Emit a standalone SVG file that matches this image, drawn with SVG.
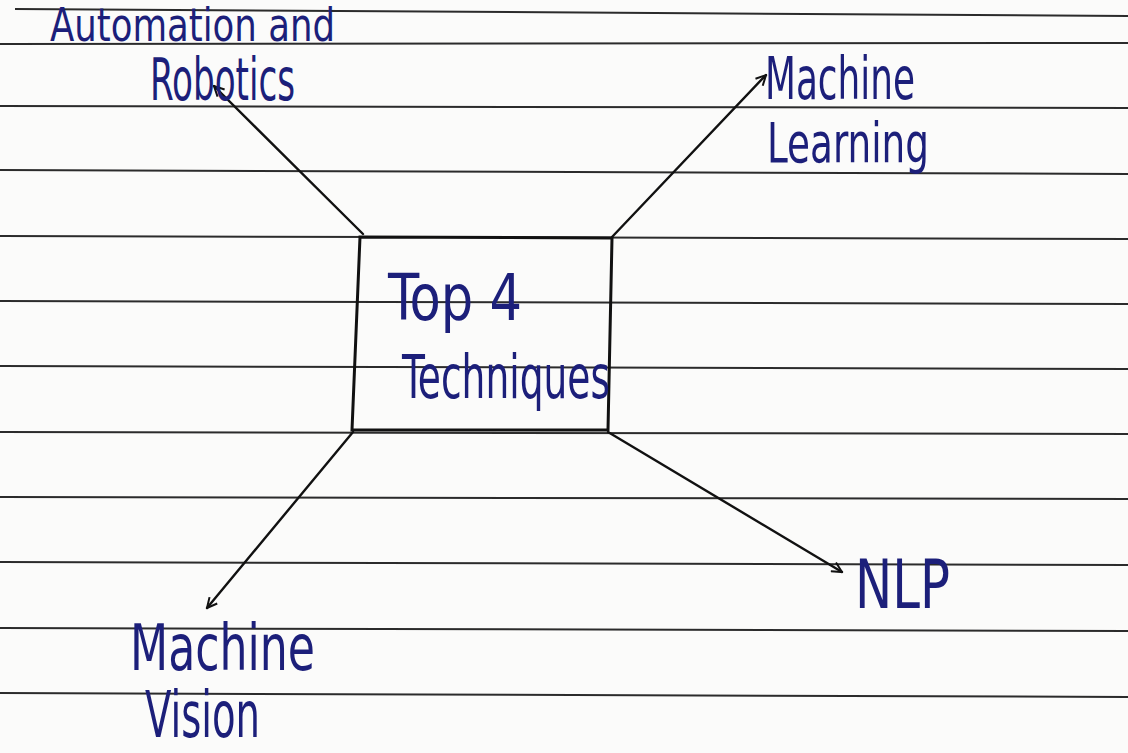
<svg xmlns="http://www.w3.org/2000/svg" width="1128" height="753" viewBox="0 0 1128 753">
<defs>
<style>
.rule{stroke:#2b2b2b;stroke-width:2;fill:none}
.conn{stroke:#111;stroke-width:2.4;fill:none;stroke-linecap:round}
.box{stroke:#111;stroke-width:3;fill:none}
.hand{font-family:"Liberation Sans Narrow","DejaVu Sans Condensed","Liberation Sans",sans-serif;fill:#1c1f7a}
</style>
<marker id="arr" viewBox="0 0 12 12" refX="11" refY="6" markerWidth="12" markerHeight="12" markerUnits="userSpaceOnUse" orient="auto">
<path d="M1,1 L11,6 L1,11" fill="none" stroke="#111" stroke-width="2"/>
</marker>
</defs>
<rect width="1128" height="753" fill="#fbfbfa"/>
<g id="ruled-lines">
<line class="rule" x1="15" y1="9" x2="1128" y2="16"/>
<line class="rule" x1="0" y1="44" x2="1128" y2="43"/>
<line class="rule" x1="0" y1="106" x2="1128" y2="108"/>
<line class="rule" x1="0" y1="170" x2="1128" y2="174"/>
<line class="rule" x1="0" y1="236" x2="1128" y2="239"/>
<line class="rule" x1="0" y1="301" x2="1128" y2="304"/>
<line class="rule" x1="0" y1="366" x2="1128" y2="369"/>
<line class="rule" x1="0" y1="432" x2="1128" y2="434"/>
<line class="rule" x1="0" y1="497" x2="1128" y2="499"/>
<line class="rule" x1="0" y1="562" x2="1128" y2="565"/>
<line class="rule" x1="0" y1="628" x2="1128" y2="631"/>
<line class="rule" x1="0" y1="693" x2="1128" y2="697"/>
</g>
<g id="connectors">
<line class="conn" x1="363" y1="234" x2="214" y2="86" marker-end="url(#arr)"/>
<line class="conn" x1="612" y1="237" x2="766" y2="75" marker-end="url(#arr)"/>
<line class="conn" x1="353" y1="432" x2="207" y2="608" marker-end="url(#arr)"/>
<line class="conn" x1="608" y1="432" x2="842" y2="572" marker-end="url(#arr)"/>
</g>
<g id="center">
<path class="box" d="M360,237 L612,238 L608,430 L352,430 Z"/>
<text class="hand" x="388" y="320" font-size="64" textLength="134" lengthAdjust="spacingAndGlyphs">Top 4</text>
<text class="hand" x="402" y="398" font-size="60" textLength="208" lengthAdjust="spacingAndGlyphs">Techniques</text>
</g>
<g id="automation-robotics">
<text class="hand" x="50" y="41" font-size="46" textLength="285" lengthAdjust="spacingAndGlyphs">Automation and</text>
<text class="hand" x="150" y="100" font-size="58" textLength="145" lengthAdjust="spacingAndGlyphs">Robotics</text>
</g>
<g id="machine-learning">
<text class="hand" x="765" y="99" font-size="58" textLength="150" lengthAdjust="spacingAndGlyphs">Machine</text>
<text class="hand" x="767" y="162" font-size="56" textLength="162" lengthAdjust="spacingAndGlyphs">Learning</text>
</g>
<g id="nlp">
<text class="hand" x="855" y="608" font-size="68" textLength="95" lengthAdjust="spacingAndGlyphs">NLP</text>
</g>
<g id="machine-vision">
<text class="hand" x="130" y="670" font-size="64" textLength="185" lengthAdjust="spacingAndGlyphs">Machine</text>
<text class="hand" x="145" y="737" font-size="64" textLength="115" lengthAdjust="spacingAndGlyphs">Vision</text>
</g>
</svg>
